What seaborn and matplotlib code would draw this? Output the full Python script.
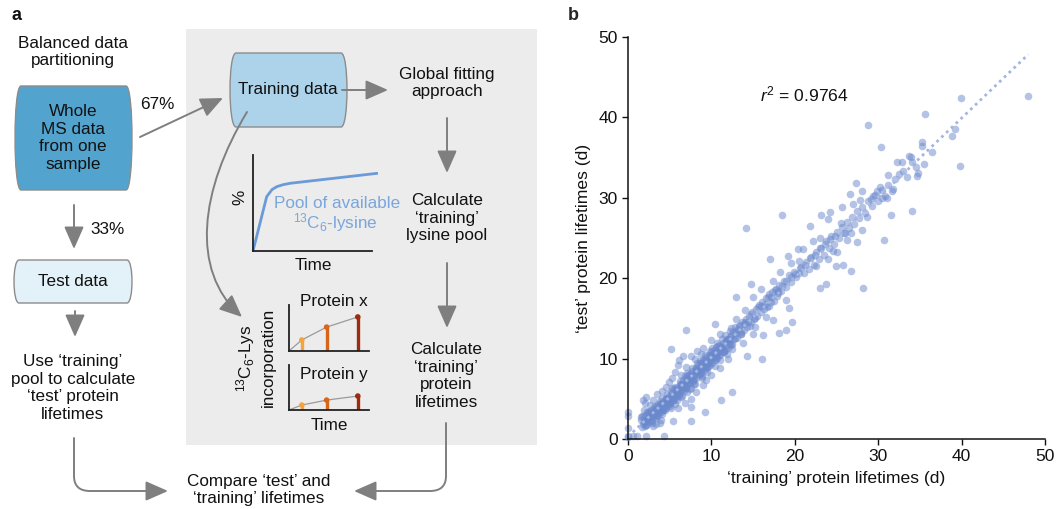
import numpy as np
import matplotlib
matplotlib.use("Agg")
import matplotlib.pyplot as plt
import seaborn as sns
import pandas as pd
from matplotlib.patches import PathPatch, FancyArrowPatch, Rectangle
from matplotlib.path import Path

# ---------------- data (panel b) ----------------
core_a_train = [1.6,1.8,1.9,2.0,2.1,2.2,2.3,2.4,2.5,2.6,2.7,2.8,2.9,3.0,3.1,3.2,3.3,3.4,3.5,3.6,3.7,3.8,3.9,4.0,4.1,4.2,4.3,4.4,4.5,4.6,4.7,4.8,4.9,5.0,5.1,5.2,5.3,5.4,5.5,5.6,5.7,5.8,5.9,6.0]
core_a_test = [2.4,1.9,2.8,2.2,3.0,1.8,2.6,3.3,2.1,2.9,3.6,2.4,3.1,2.7,3.8,3.2,2.6,3.5,4.1,3.0,3.7,4.4,3.4,4.0,3.1,4.6,3.8,4.3,5.0,3.9,4.7,4.2,5.3,4.6,3.9,5.1,5.7,4.8,5.4,4.4,6.0,5.2,5.7,6.4]

core_b_train = [6.1,6.2,6.3,6.4,6.5,6.6,6.7,6.8,6.9,7.0,7.1,7.2,7.3,7.4,7.5,7.6,7.7,7.8,7.9,8.0,8.1,8.2,8.3,8.4,8.5,8.6,8.7,8.8,8.9,9.0,9.1,9.2,9.3,9.4,9.5,9.6,9.7,9.8,9.9,10.0,10.1,10.2,10.3,10.4,10.5,10.6,10.7,10.8,10.9,11.0,11.2,11.4,11.5,11.7,11.9,12.0,12.2,12.4,12.5,12.7]
core_b_test = [5.5,6.9,6.1,5.2,6.7,7.3,6.0,6.6,7.6,6.9,5.9,7.4,8.0,7.0,6.4,7.8,8.4,7.3,6.8,8.1,8.8,7.6,8.4,9.2,7.9,8.7,9.5,8.3,7.6,9.0,9.8,8.6,9.3,10.2,8.9,9.7,10.5,9.2,10.0,10.8,9.5,10.3,11.1,9.8,10.6,11.4,10.1,10.9,11.7,10.4,11.2,12.0,10.8,11.6,12.4,11.3,12.1,12.8,11.8,12.5]

core_c_train = [2.2,2.5,2.9,3.2,3.6,3.9,4.2,4.6,4.9,5.2,5.5,5.9,6.2,6.5,6.9,7.2,7.5,7.9,8.2,8.6,8.9,9.3,9.6,9.9,10.3,10.6,10.9,11.3,11.6,12.1]
core_c_test = [2.3,2.7,2.3,3.6,3.5,4.2,3.6,4.5,4.4,5.4,4.9,6.1,5.8,6.2,6.4,7.0,7.6,7.9,8.3,8.2,8.9,8.8,9.4,9.7,10.5,10.3,10.8,11.5,11.1,12.4]

core_d_train = [1.7,2.0,2.3,2.6,2.9,3.2,3.5,3.8,4.1,4.4,4.7,5.0,5.3,5.6,5.9,6.2,6.5,6.8,7.1,7.4,7.7,8.0,8.3,8.6,8.9,9.2,9.5,9.8,10.1,10.4,10.7,11.0,11.3,11.6,11.9,12.2,12.5,12.8]
core_d_test = [2.9,1.6,3.4,3.5,2.0,4.1,2.9,4.7,5.1,3.6,5.6,4.1,6.3,6.5,4.8,7.2,5.4,7.8,8.2,6.2,8.8,6.9,9.4,9.7,7.8,10.4,8.3,11.0,11.3,9.1,11.9,9.8,12.5,12.9,10.6,13.4,11.2,13.9]

core_e_train = [1.9,2.4,2.7,3.1,3.4,3.7,4.0,4.3,4.6,4.9,5.2,5.5,5.8,6.1,6.4,6.7,7.0,7.3,7.6,7.9,8.2,8.5,8.8,9.1,9.4,9.7,10.0,10.3,10.6,10.9,11.2,11.5,11.8,12.1,12.4,12.8,13.2,13.6]
core_e_test = [2.1,2.5,2.9,3.0,3.8,3.4,4.5,4.1,5.1,4.7,5.9,5.2,6.4,6.0,6.9,6.5,7.5,7.1,8.2,7.5,8.8,8.4,9.4,8.9,9.9,9.5,10.4,10.1,11.1,10.5,11.6,11.0,12.2,11.8,12.9,12.6,13.7,13.3]

core_g_train = [2.1,2.6,3.0,3.3,3.6,3.9,4.2,4.5,4.8,5.1,5.4,5.7,6.0,6.3,6.6,6.9,7.2,7.5,7.8,8.1,8.4,8.7,9.0,9.3,9.6,9.9,10.2,10.5,10.8,11.1,11.4,11.7,12.0,12.3,12.6,13.0,13.5,14.0]
core_g_test = [1.7,3.2,3.3,2.9,4.4,4.0,3.6,5.0,5.0,4.6,6.2,5.8,5.4,6.8,6.8,6.4,8.0,7.6,7.2,8.6,8.7,8.1,9.8,9.4,9.0,10.4,10.5,9.9,11.6,11.3,10.8,12.2,12.4,11.7,13.3,13.2,13.0,14.6]

spread_train = [1.5,1.7,1.8,2.0,2.2,1.9,2.6,3.0,3.5,4.1,4.9,5.6,6.0,6.6,7.5,8.3,8.8,3.3,4.0,5.4,6.0,6.8,7.5,7.6,8.2,9.0,9.4,10.0,11.0,12.0,7.0,8.0,9.0,10.0,11.0,12.3,4.5,5.3,6.3,3.0]
spread_test = [2.7,1.5,4.8,4.5,5.2,3.6,4.2,4.9,5.6,6.0,7.1,8.3,9.2,10.3,10.3,11.0,10.6,1.9,2.4,2.2,3.9,4.5,5.0,4.0,5.9,6.7,7.4,8.0,8.8,10.0,9.0,9.9,11.3,12.3,13.1,13.8,6.5,7.6,8.0,1.6]

mid_train = [12.9,13.1,13.3,13.5,13.7,13.9,14.1,14.3,14.5,14.7,14.9,15.1,15.3,15.5,15.7,15.9,16.1,16.3,16.5,16.7,16.9,17.1,17.3,17.5,17.7,17.9,18.1,18.4,18.7,19.0,19.3,19.6,19.9,20.2,13.0,14.0,15.0,16.0,13.8,15.2,16.6,17.4,18.2,19.2,19.5,18.9,20.5,14.6,16.9,18.0]
mid_test = [13.4,12.6,14.0,13.1,14.5,13.6,14.9,13.9,15.3,14.6,15.8,14.9,16.2,15.3,16.7,15.8,17.0,16.2,17.5,16.4,18.0,17.0,18.3,17.2,18.7,17.8,19.2,18.4,19.7,18.9,20.4,19.5,20.8,20.1,14.9,16.1,17.6,18.6,11.9,13.9,15.2,19.6,20.8,22.7,21.9,17.3,22.2,14.1,16.6,18.1]

band_f_train = [13.4,13.9,14.4,14.8,15.2,15.6,16.0,16.4,16.8,17.2,17.6,18.0,18.5,19.0,19.5,20.0,20.6,21.2,21.8,22.4,23.0,23.6,24.2,24.8]
band_f_test = [14.2,14.3,14.6,15.6,15.1,16.4,16.5,16.8,17.6,17.6,18.5,18.4,19.0,19.7,20.1,20.5,21.3,21.7,22.5,22.9,23.7,24.2,24.9,25.3]

high_train = [20.5,20.8,21.1,21.4,21.7,22.0,22.3,22.6,22.9,23.2,23.5,23.8,24.1,24.4,24.7,25.0,25.3,25.6,25.9,26.2,26.5,26.8,27.1,27.4,27.7,28.0,28.4,28.8,29.2,29.6,30.0,30.4,30.8,21.0,22.2,23.0,24.0,24.6,25.5,26.3,27.0,27.8,28.6,29.4,28.0,25.0,26.7,29.1]
high_test = [20.6,21.4,20.7,22.0,21.2,22.6,21.7,23.2,22.4,23.8,22.9,24.6,23.8,25.2,24.2,25.8,25.0,26.4,25.6,27.0,26.2,27.6,26.8,28.3,27.5,28.8,28.1,29.6,29.0,30.4,29.6,31.0,30.2,23.6,24.6,25.0,22.4,23.4,26.9,24.8,29.2,29.7,27.6,30.2,26.0,23.3,25.6,29.9]

top_train = [31.2,31.6,32.0,32.5,33.0,33.5,34.0,34.5,31.0,30.2,29.8,30.5]
top_test = [31.6,30.9,32.4,33.0,33.3,32.6,34.5,33.8,30.0,31.3,30.8,30.0]

outlier_train = [48.0,39.9,39.8,38.9,39.2,35.6,28.8,30.3,35.2,35.2,
                 36.4,34.0,31.5,30.7,34.7,34.8,33.7,33.9,35.5,32.2,
                 32.8,27.3,18.5,14.1,26.7,28.2,23.0,23.7,24.9,25.8,
                 19.7,19.0,18.1,17.4,19.3,15.0,16.2,16.1,14.3,12.5,
                 11.2,9.2,7.5,4.3,2.2,1.1,0.6,0.0,0.0,0.0,
                 0.0,0.0,10.4,6.9,5.2,6.1,13.0,14.8,17.0,20.4,
                 21.8,23.2,24.2,24.0,25.6,26.6,28.0,31.2,31.8,22.6,
                 26.0,27.4,3.8]
outlier_test = [42.6,42.4,33.9,37.7,38.6,40.4,39.1,36.3,37.0,36.5,
                35.7,28.3,27.8,24.7,32.7,33.1,35.2,35.1,34.2,34.5,
                34.5,31.9,27.8,26.3,20.9,18.8,18.8,19.3,21.5,21.6,
                14.6,13.5,13.2,14.8,16.3,13.0,12.9,10.0,10.3,5.9,
                4.9,3.4,2.2,0.4,0.4,0.4,0.4,0.4,0.3,1.4,
                2.8,3.4,14.3,13.5,11.2,9.8,17.7,19.3,22.4,23.6,
                26.5,27.8,28.2,27.4,28.9,30.5,30.9,32.8,31.1,21.5,
                25.6,24.5,2.0]

axis_ticks = [0, 10, 20, 30, 40, 50]
r2_label = r"$r^2$ = 0.9764"

# ---------------- illustration values (panel a) ----------------
pool_time = [0, 0.115, 0.16, 0.2, 0.25, 0.31, 1.05]
pool_level = [0, 0.566, 0.64, 0.67, 0.69, 0.705, 0.81]
stem_times = [0.16, 0.47, 0.86]
protein_x_incorp = [0.24, 0.52, 0.74]
protein_y_incorp = [0.11, 0.22, 0.31]
stem_colors = ["#f5a43a", "#d8661a", "#9c2b10"]

# ---------------- style ----------------
sns.set_theme(style="ticks")
plt.rcParams['font.family'] = ['Liberation Sans', 'DejaVu Sans']
plt.rcParams['mathtext.fontset'] = 'custom'
plt.rcParams['mathtext.rm'] = 'Liberation Sans'
plt.rcParams['mathtext.it'] = 'Liberation Sans:italic'
plt.rcParams['mathtext.bf'] = 'Liberation Sans:bold'

W, H = 1057, 509
fig = plt.figure(figsize=(W / 100, H / 100), dpi=100)

def px_axes(x0, y0, x1, y1):
    return fig.add_axes([x0 / W, 1 - y1 / H, (x1 - x0) / W, (y1 - y0) / H])

FS = 12.3
GRAY = "#7f7f7f"

# ---------------- panel a canvas ----------------
ax0 = fig.add_axes([0, 0, 1, 1])
ax0.set_xlim(0, W)
ax0.set_ylim(H, 0)
ax0.axis('off')

ax0.add_patch(Rectangle((186, 29), 351, 416, facecolor="#ececec", edgecolor="none", zorder=0))

def barrel(xl, xr, yt, yb, bulge, fc):
    c = bulge * 4 / 3
    verts = [(xl, yt), (xr, yt), (xr + c, yt), (xr + c, yb), (xr, yb), (xl, yb),
             (xl - c, yb), (xl - c, yt), (xl, yt), (xl, yt)]
    codes = [Path.MOVETO, Path.LINETO, Path.CURVE4, Path.CURVE4, Path.CURVE4, Path.LINETO,
             Path.CURVE4, Path.CURVE4, Path.CURVE4, Path.CLOSEPOLY]
    ax0.add_patch(PathPatch(Path(verts, codes), facecolor=fc, edgecolor="#8c8c8c", lw=1.0, zorder=2))

barrel(21, 126, 86, 190, 6, "#52a4ce")
barrel(236, 341, 53, 127, 6, "#acd3ea")
barrel(19, 127, 260, 303, 5, "#e3f1f8")

ARROW = dict(arrowstyle="-|>,head_length=1.25,head_width=0.55", mutation_scale=11,
             color=GRAY, lw=1.4, shrinkA=0, shrinkB=0, zorder=3)

def arrow(p0, p1):
    ax0.add_patch(FancyArrowPatch(p0, p1, **ARROW))

def path_arrow(verts, codes):
    ax0.add_patch(FancyArrowPatch(path=Path(verts, codes), **ARROW))

arrow((140, 137), (223, 98))
arrow((74, 205), (74, 249))
arrow((342, 90), (388, 90))
arrow((447, 118), (447, 173))
arrow((447, 263), (447, 328))
arrow((75, 311), (75, 337))

path_arrow([(247, 112), (200, 190), (190, 270), (242, 317)],
           [Path.MOVETO, Path.CURVE4, Path.CURVE4, Path.CURVE4])
path_arrow([(74, 438), (74, 476), (74, 491), (90, 491), (168, 491)],
           [Path.MOVETO, Path.LINETO, Path.CURVE3, Path.CURVE3, Path.LINETO])
path_arrow([(446, 423), (446, 476), (446, 491), (430, 491), (354, 491)],
           [Path.MOVETO, Path.LINETO, Path.CURVE3, Path.CURVE3, Path.LINETO])

def t(x, y, s, **kw):
    d = dict(ha='center', va='center', fontsize=FS, color='#111111', linespacing=1.22, zorder=4)
    d.update(kw)
    ax0.text(x, y, s, **d)

t(12, 15, "a", fontweight='bold', fontsize=13, ha='left')
t(73, 52, "Balanced data\npartitioning")
t(73, 138, "Whole\nMS data\nfrom one\nsample")
t(157, 104, "67%")
t(108, 229, "33%")
t(73, 281, "Test data")
t(73, 388, "Use \u2018training\u2019\npool to calculate\n\u2018test\u2019 protein\nlifetimes")
t(288, 89, "Training data")
t(447, 83, "Global fitting\napproach")
t(447, 218, "Calculate\n\u2018training\u2019\nlysine pool")
t(446, 376, "Calculate\n\u2018training\u2019\nprotein\nlifetimes")
t(259, 490, "Compare \u2018test\u2019 and\n\u2018training\u2019 lifetimes")
t(240, 197, "%", rotation=90)
t(313, 266, "Time")
t(329, 425, "Time")
t(334, 302, "Protein x")
t(334, 374, "Protein y")
t(337, 203, "Pool of available", color="#7aa6dc")
t(335, 223, r"$^{13}$C$_6$-lysine", color="#7aa6dc")
t(246, 358, r"$^{13}$C$_6$-Lys", rotation=90)
t(268, 357, "incorporation", rotation=90)

def mini_axes(box):
    a = px_axes(*box)
    a.set_xlim(0, 1)
    a.set_ylim(0, 1)
    a.patch.set_alpha(0)
    for s in ['top', 'right']:
        a.spines[s].set_visible(False)
    for s in ['left', 'bottom']:
        a.spines[s].set_color('#222222')
        a.spines[s].set_linewidth(1.3)
    a.set_xticks([])
    a.set_yticks([])
    return a

pa = mini_axes((253, 155, 372, 251))
pa.plot(pool_time, pool_level, color="#6a9bd8", lw=2, clip_on=False, solid_capstyle='butt')

for box, vals in [((289, 305, 369, 351), protein_x_incorp), ((289, 365, 369, 410), protein_y_incorp)]:
    a = mini_axes(box)
    a.plot([0] + stem_times, [0] + vals, color="#9a9a9a", lw=0.9, zorder=1)
    a.vlines(stem_times, 0, vals, colors=stem_colors, lw=2.4, zorder=2)
    a.scatter(stem_times, vals, c=stem_colors, s=9, zorder=3, clip_on=False)

# ---------------- panel b ----------------
train_all = (core_a_train + core_b_train + core_c_train + core_d_train + core_e_train + core_g_train
             + spread_train + mid_train + band_f_train + high_train + top_train + outlier_train)
test_all = (core_a_test + core_b_test + core_c_test + core_d_test + core_e_test + core_g_test
            + spread_test + mid_test + band_f_test + high_test + top_test + outlier_test)
df = pd.DataFrame({"training": train_all, "test": test_all})

ax = px_axes(628, 37, 1045, 439)
sns.scatterplot(data=df, x="training", y="test", ax=ax, color="#6a88cc", alpha=0.5,
                s=30, linewidth=0, clip_on=False)
sns.regplot(data=df, x="training", y="test", ax=ax, scatter=False, ci=None,
            line_kws=dict(color="#a3b5e2", lw=2.0, ls=(0, (1, 1.4))))
ax.set_xlim(0, 50)
ax.set_ylim(0, 50)
ax.set_xticks(axis_ticks)
ax.set_yticks(axis_ticks)
ax.tick_params(labelsize=12.5, length=4, width=1, colors='#111111', direction='out')
ax.set_xlabel("\u2018training\u2019 protein lifetimes (d)", fontsize=12.6, color='#111111', labelpad=5)
ax.set_ylabel("\u2018test\u2019 protein lifetimes (d)", fontsize=12.6, color='#111111', labelpad=5)
for s in ['left', 'bottom']:
    ax.spines[s].set_color('#111111')
    ax.spines[s].set_linewidth(1.1)
sns.despine(ax=ax)
ax.text(15.8, 42.8, r2_label, fontsize=12.6, ha='left', va='center', color='#111111')
fig.text(568 / W, 1 - 15 / H, "b", fontweight='bold', fontsize=13, ha='left', va='center')

fig.savefig("out.png", dpi=100)
